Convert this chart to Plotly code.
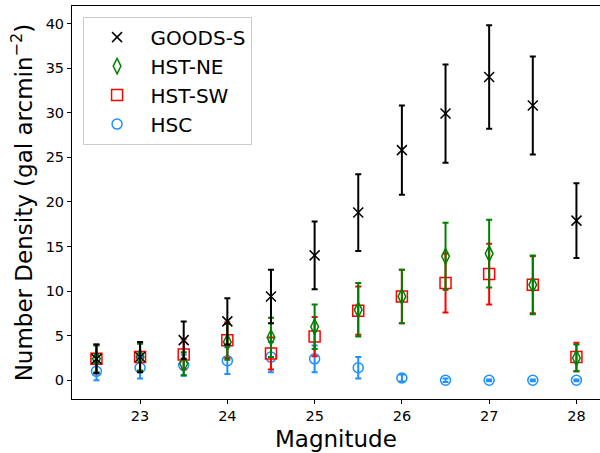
import plotly.graph_objects as go

mags = [22.5, 23.0, 23.5, 24.0, 24.5, 25.0, 25.5, 26.0, 26.5, 27.0, 27.5, 28.0]

goods_s = [2.4, 2.6, 4.5, 6.6, 9.4, 14.0, 18.8, 25.8, 29.9, 34.0, 30.8, 17.9]
goods_s_err = [1.6, 1.7, 2.1, 2.6, 3.0, 3.8, 4.3, 5.0, 5.5, 5.8, 5.5, 4.2]

hst_ne = [2.4, 2.6, 1.85, 4.3, 4.8, 6.0, 7.9, 9.4, 13.9, 14.2, 10.7, 2.5]
hst_ne_err = [1.5, 1.5, 1.3, 2.0, 2.2, 2.5, 3.0, 3.0, 3.75, 3.8, 3.3, 1.5]

hst_sw = [2.4, 2.6, 2.9, 4.5, 3.0, 4.9, 7.8, 9.4, 10.9, 11.9, 10.7, 2.6]
hst_sw_err = [1.6, 1.6, 1.7, 2.0, 1.8, 2.2, 2.7, 3.0, 3.3, 3.4, 3.2, 1.6]

hsc = [1.0, 1.4, 1.7, 2.2, 2.6, 2.4, 1.4, 0.25, 0.0, 0.0, 0.0, 0.0]
hsc_err = [1.0, 1.2, 1.2, 1.5, 1.7, 1.5, 1.2, 0.4, 0.2, 0.1, 0.1, 0.1]

x_title = "Magnitude"
y_title = "Number Density (gal arcmin<sup>\u22122</sup>)"

series = [
    ("HSC", hsc, hsc_err, "#1E90FF", "circle-open", 10, 1.5),
    ("HST-SW", hst_sw, hst_sw_err, "#FF0000", "square-open", 11, 1.5),
    ("HST-NE", hst_ne, hst_ne_err, "#008000", "diamond-tall-open", 11, 1.5),
    ("GOODS-S", goods_s, goods_s_err, "#000000", "x-thin-open", 10, 1.5),
]

fig = go.Figure()
for name, vals, errs, color, sym, size, lw in series:
    fig.add_trace(go.Scatter(
        x=mags, y=vals, name=name, mode="markers",
        marker=dict(symbol=sym, size=size, color=color, line=dict(color=color, width=lw)),
        error_y=dict(type="data", array=errs, visible=True, color=color, thickness=2, width=3),
    ))

font = "DejaVu Sans"
fig.update_layout(
    width=600, height=453,
    margin=dict(l=72, r=0, t=5.5, b=54, autoexpand=False),
    plot_bgcolor="white", paper_bgcolor="white",
    font=dict(family=font, color="black"),
    legend=dict(
        x=0.02, y=0.973, xanchor="left", yanchor="top",
        traceorder="reversed",
        font=dict(size=20, family=font),
        bordercolor="#cccccc", borderwidth=1,
        bgcolor="rgba(255,255,255,0.8)",
        itemwidth=57, tracegroupgap=0,
    ),
    xaxis=dict(
        range=[22.22, 28.27], tickvals=[23, 24, 25, 26, 27, 28],
        ticks="outside", ticklen=4, tickwidth=1, tickcolor="black",
        tickfont=dict(size=14.5), automargin=False,
        showline=True, linecolor="black", linewidth=1, mirror=True,
        showgrid=False, zeroline=False,
    ),
    yaxis=dict(
        range=[-2.1, 41.96], tickvals=[0, 5, 10, 15, 20, 25, 30, 35, 40],
        ticks="outside", ticklen=4, tickwidth=1, tickcolor="black",
        tickfont=dict(size=14.5), automargin=False,
        showline=True, linecolor="black", linewidth=1, mirror=True,
        showgrid=False, zeroline=False,
    ),
    annotations=[
        dict(text=x_title, xref="paper", yref="paper", x=0.5, y=-0.064,
             xanchor="center", yanchor="top", showarrow=False, font=dict(size=23)),
        dict(text=y_title, xref="paper", yref="paper", x=-0.095, y=0.5,
             xanchor="center", yanchor="middle", textangle=-90, showarrow=False,
             font=dict(size=23)),
    ],
)

fig.write_html("out.html", config={"displayModeBar": False},
               post_script="document.body.style.margin='0';")
